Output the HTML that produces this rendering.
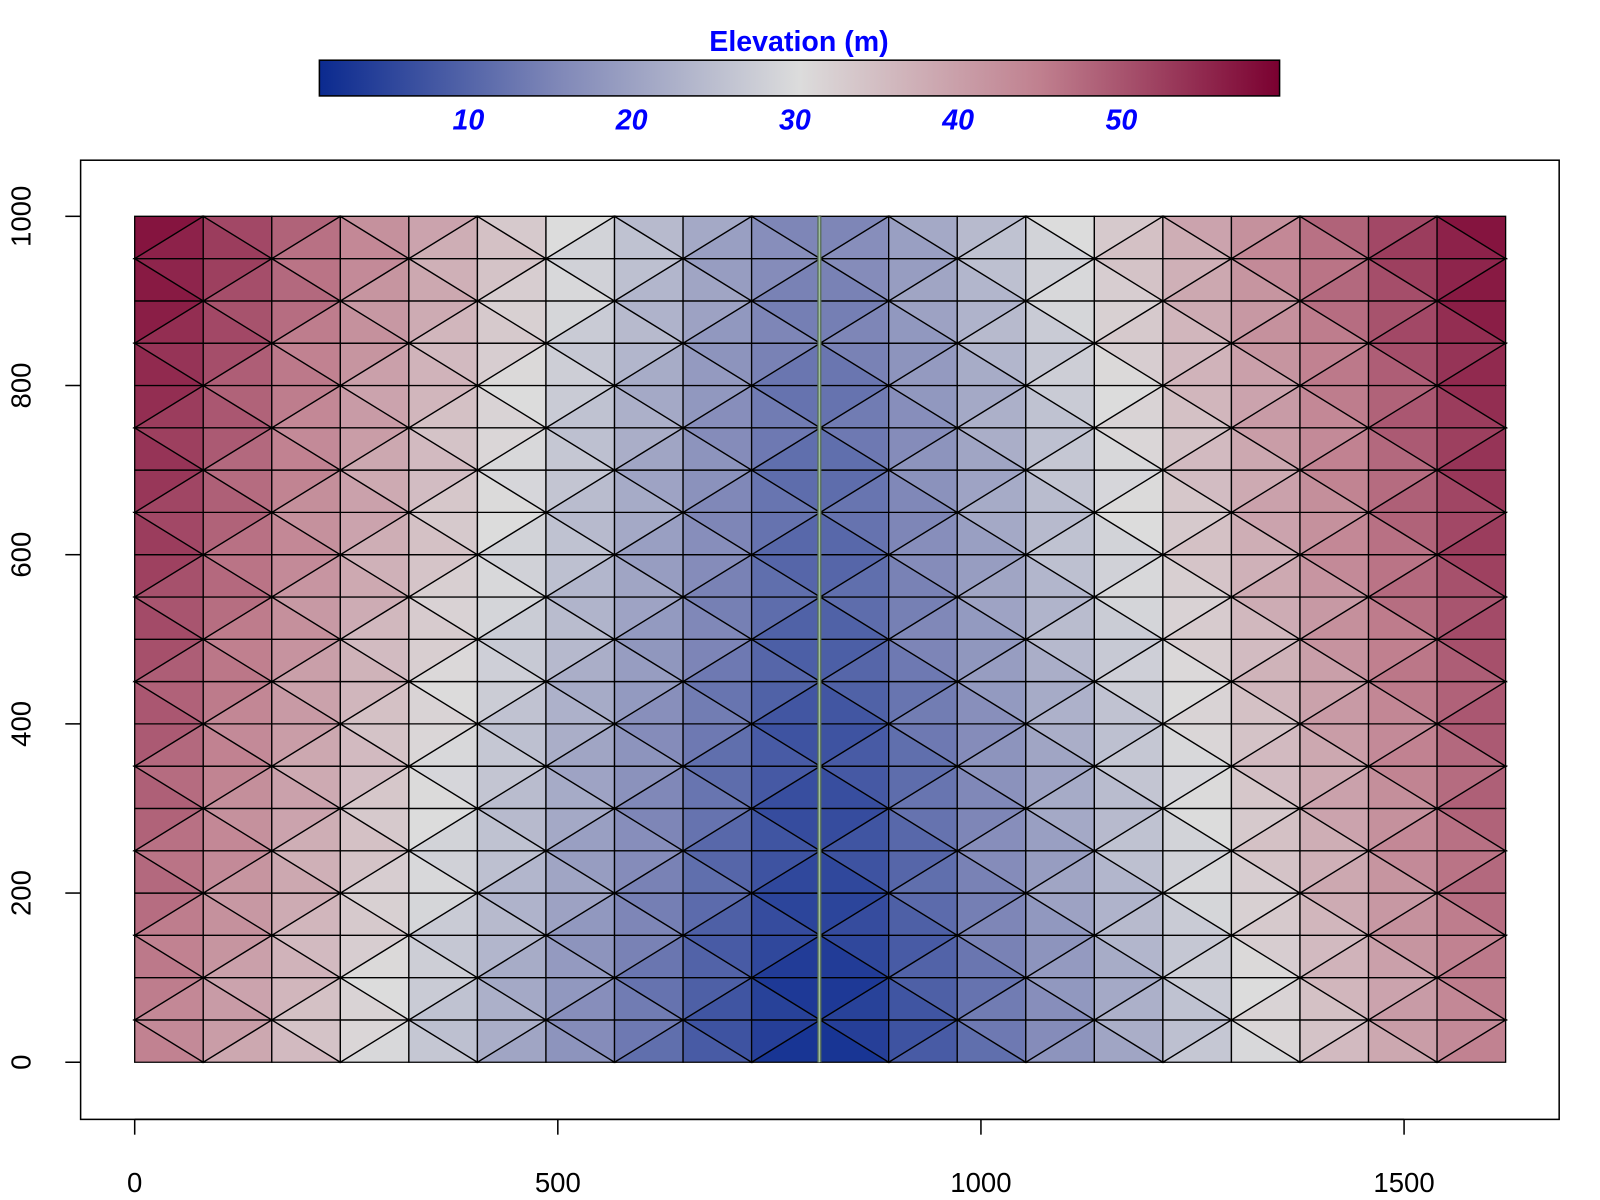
<!DOCTYPE html>
<html><head><meta charset="utf-8"><style>
html,body{margin:0;padding:0;background:#fff;}
svg{display:block;font-family:"Liberation Sans",sans-serif;}
</style></head><body>
<svg id="chart" width="1600" height="1200">
<defs>
<linearGradient id="cbar" x1="0" x2="1" y1="0" y2="0">
<stop offset="0" stop-color="#0b2a8f"/><stop offset="0.25" stop-color="#8088b8"/>
<stop offset="0.5" stop-color="#dcdcdc"/><stop offset="0.75" stop-color="#c0808f"/>
<stop offset="1" stop-color="#7a0030"/></linearGradient>
</defs>
<g transform="scale(1.0204)">
<g id="mesh"></g>
<line x1="803" y1="212" x2="803" y2="1041" stroke="#556b55" stroke-width="4"/>
<line x1="803" y1="212" x2="803" y2="1041" stroke="#9fbf9f" stroke-width="1.5"/>
<rect x="79" y="157" width="1449" height="940" fill="none" stroke="#000" stroke-width="1.5"/>
<g id="axes"></g>
<rect x="313" y="59" width="941" height="35" fill="url(#cbar)" stroke="#000" stroke-width="1.5"/>
<text x="783" y="50" text-anchor="middle" font-size="28" font-weight="bold" fill="#0000ff">Elevation (m)</text>
<g id="cbticks"></g>
</g>
</svg>
<script>
const xNodes=[0,162,324,486,648,810,972,1134,1296,1458,1620];
const yNodes=[0,100,200,300,400,500,600,700,800,900,1000];
const elevation=[
[46,37,28,19,10,1,10,19,28,37,46],
[47,38,29,20,11,2,11,20,29,38,47],
[49,40,31,22,13,4,13,22,31,40,49],
[50,41,32,23,14,5,14,23,32,41,50],
[51,42,33,24,15,6,15,24,33,42,51],
[52,44,34,26,17,8,17,26,34,44,52],
[54,45,36,27,18,9,18,27,36,45,54],
[55,46,37,28,19,10,19,28,37,46,55],
[56,47,38,29,20,11,20,29,38,47,56],
[58,49,40,31,22,13,22,31,40,49,58],
[59,50,41,32,23,14,23,32,41,50,59]];
const xTicks=[0,500,1000,1500];
const yTicks=[0,200,400,600,800,1000];
const cbTicks=[10,20,30,40,50];
const NS="http://www.w3.org/2000/svg";
const sx=v=>132+v*(1244/1500), sy=v=>1041-v*(829/1000);
const cbx=v=>313+(v-0.875)*16;
function col(v){
 const stops=[[1,[11,42,143]],[15.6,[128,136,184]],[30.3,[220,220,220]],[45,[192,128,143]],[59.6,[122,0,48]]];
 if(v<=stops[0][0])return'rgb(11,42,143)';
 for(let i=0;i<stops.length-1;i++){const a=stops[i],b=stops[i+1];if(v<=b[0]){const t=(v-a[0])/(b[0]-a[0]);
 return'rgb('+a[1].map((c,k)=>Math.round(c+(b[1][k]-c)*t)).join(',')+')';}}
 return'rgb(122,0,48)';}
function el(tag,at,p){const e=document.createElementNS(NS,tag);for(const k in at)e.setAttribute(k,at[k]);p.appendChild(e);return e;}
const mesh=document.getElementById('mesh');
const S=2;
function val(i,j){
 const gi=i/S,gj=j/S,i0=Math.min(Math.floor(gi),xNodes.length-2),j0=Math.min(Math.floor(gj),yNodes.length-2);
 const tx=gi-i0,ty=gj-j0;
 return elevation[j0][i0]*(1-tx)*(1-ty)+elevation[j0][i0+1]*tx*(1-ty)+elevation[j0+1][i0]*(1-tx)*ty+elevation[j0+1][i0+1]*tx*ty;}
function pos(i,j){const gi=i/S,gj=j/S,i0=Math.min(Math.floor(gi),xNodes.length-2),j0=Math.min(Math.floor(gj),yNodes.length-2);
 return[sx(xNodes[i0]+(xNodes[i0+1]-xNodes[i0])*(gi-i0)),sy(yNodes[j0]+(yNodes[j0+1]-yNodes[j0])*(gj-j0))];}
const NI=(xNodes.length-1)*S,NJ=(yNodes.length-1)*S;
for(let j=0;j<NJ;j++)for(let i=0;i<NI;i++){
 const a=[i,j],b=[i+1,j],c=[i+1,j+1],d=[i,j+1];
 const tris=((i+j)%2)?[[a,b,c],[a,c,d]]:[[a,b,d],[b,c,d]];
 tris.forEach(t=>{const v=t.reduce((s,p)=>s+val(p[0],p[1]),0)/3;
  const p=el('polygon',{points:t.map(q=>pos(q[0],q[1]).join(',')).join(' '),fill:col(v),stroke:'#000','stroke-width':1.3},mesh);
  
  });
}
const ax=document.getElementById('axes');
xTicks.forEach(t=>{const x=sx(t);
 const l=el('line',{x1:x,x2:x,y1:1097,y2:1112,stroke:'#000','stroke-width':1.5},ax);
 
 
 const tx=el('text',{x:x,y:1168,'text-anchor':'middle','font-size':27},ax);tx.textContent=t;
 
 });
el('line',{x1:sx(0),x2:sx(1500),y1:1097,y2:1097,stroke:'#000','stroke-width':1.5},ax);
yTicks.forEach(t=>{const y=sy(t);
 const l=el('line',{x1:64,x2:79,y1:y,y2:y,stroke:'#000','stroke-width':1.5},ax);
 
 
 const tx=el('text',{x:0,y:0,'text-anchor':'middle','font-size':27,transform:'translate(30,'+y+') rotate(-90)'},ax);tx.textContent=t;
 
 });
const cb=document.getElementById('cbticks');
cbTicks.forEach(t=>{const tx=el('text',{x:cbx(t),y:127,'text-anchor':'middle','font-size':28,'font-weight':'bold','font-style':'italic',fill:'#0000ff'},cb);tx.textContent=t;
 
 });
</script>
</body></html>
